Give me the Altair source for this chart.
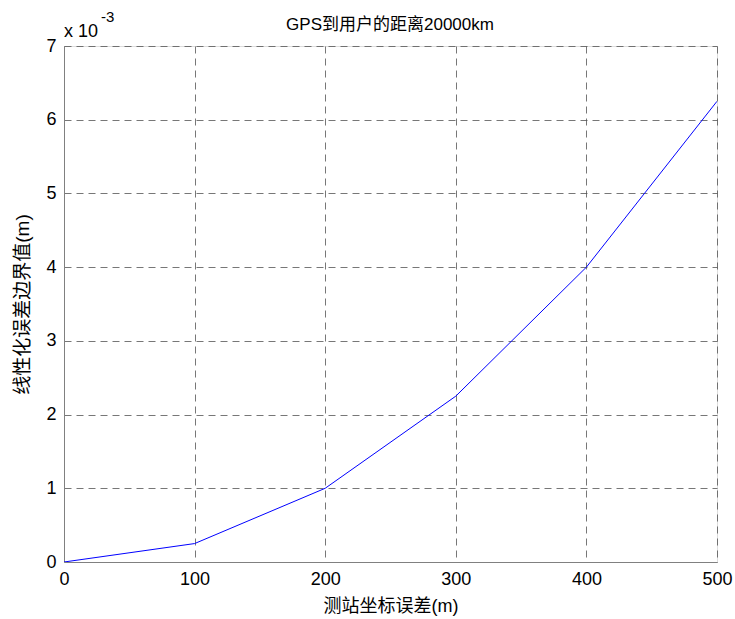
import altair as alt
import pandas as pd

x_vals = [0, 100, 200, 300, 400, 500]
y_vals = [0.0, 0.00025, 0.0010, 0.00225, 0.0040, 0.00625]
x_ticks = [0, 100, 200, 300, 400, 500]
y_ticks = [0, 0.001, 0.002, 0.003, 0.004, 0.005, 0.006, 0.007]
title_text = "GPS到用户的距离20000km"

df = pd.DataFrame({"x": x_vals, "y": y_vals})
one = pd.DataFrame({"k": [0]})
FONT = "Liberation Sans, Noto Sans CJK SC"

xenc = alt.X("x:Q", scale=alt.Scale(domain=[0, 500], nice=False),
             axis=alt.Axis(values=x_ticks, title="测站坐标误差(m)", titleFont=FONT,
                           titleFontSize=18, titleFontWeight="normal", titleColor="black",
                           titlePadding=9, labelFont=FONT, labelFontSize=18, labelColor="black",
                           labelPadding=8, ticks=False, domainColor="#808080",
                           grid=True, gridDash=[7, 5], gridColor="#555555", gridOpacity=0.8,
                           labelFlush=False))
yenc = alt.Y("y:Q", scale=alt.Scale(domain=[0, 0.007], nice=False),
             axis=alt.Axis(values=y_ticks, labelExpr="format(datum.value*1000, 'd')",
                           title="线性化误差边界值(m)", titleFont=FONT,
                           titleFontSize=19, titleFontWeight="normal", titleColor="black",
                           titlePadding=13, labelFont=FONT, labelFontSize=18, labelColor="black",
                           labelPadding=8, ticks=False, domainColor="#808080",
                           grid=True, gridDash=[7, 5], gridColor="#555555", gridOpacity=0.8))

line = alt.Chart(df).mark_line(color="#0000ff", strokeWidth=1, clip=True).encode(x=xenc, y=yenc)

exp_base = alt.Chart(one).mark_text(text="x 10", font=FONT, fontSize=18, fontWeight="normal",
                                    align="left", baseline="alphabetic", color="black").encode(
    x=alt.value(0), y=alt.value(-9))
exp_sup = alt.Chart(one).mark_text(text="-3", font=FONT, fontSize=15, fontWeight="normal",
                                   align="left", baseline="alphabetic", color="black").encode(
    x=alt.value(37), y=alt.value(-24))
title_mark = alt.Chart(one).mark_text(text=title_text, font=FONT, fontSize=17,
                                      fontWeight="normal", align="center",
                                      baseline="middle", color="black").encode(
    x=alt.value(326), y=alt.value(-21))

chart = alt.layer(line, exp_base, exp_sup, title_mark).properties(
    width=653, height=516,
    autosize=alt.AutoSizeParams(type="none"),
    padding={"left": 64, "top": 46, "right": 18, "bottom": 57},
).configure_view(stroke="#808080", strokeWidth=1).configure(background="white")

chart.save("out.html", embed_options={"renderer": "svg", "actions": False})
